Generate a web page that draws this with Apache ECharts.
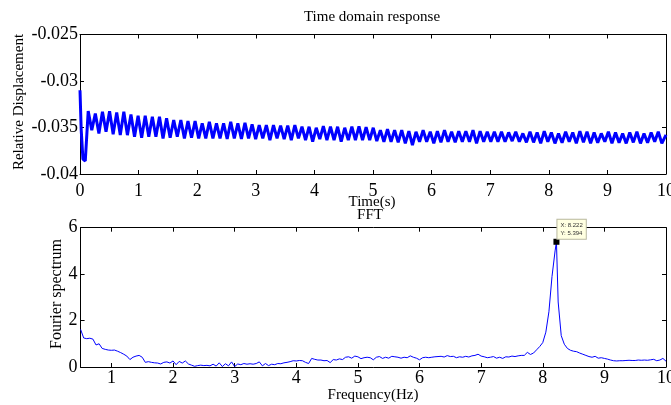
<!DOCTYPE html>
<html>
<head>
<meta charset="utf-8">
<script src="https://cdn.jsdelivr.net/npm/echarts@6.0.0/dist/echarts.min.js"></script>
<style>
  html, body { margin: 0; padding: 0; background: #fff; }
  #main { width: 671px; height: 405px; }
</style>
</head>
<body>
<div id="main"></div>
<script>
// ---- time domain data (relative displacement) ----
var startTimes = [0, 0.02, 0.05, 0.09];
var startDisp = [-0.0310, -0.0352, -0.0384, -0.0386];
var cycleStart = 0.14;     // first peak (s)
var halfPeriod = 0.0608;   // ~8.22 Hz
var peakDisp = [
  -0.03324,-0.03349,-0.03331,-0.03324,-0.03338,-0.03331,-0.03360,-0.03374,-0.03374,-0.03385,
  -0.03385,-0.03402,-0.03420,-0.03420,-0.03431,-0.03431,-0.03456,-0.03438,-0.03456,-0.03456,
  -0.03438,-0.03456,-0.03449,-0.03467,-0.03474,-0.03474,-0.03474,-0.03481,-0.03481,-0.03474,
  -0.03492,-0.03492,-0.03503,-0.03485,-0.03492,-0.03492,-0.03503,-0.03492,-0.03488,-0.03496,-0.03503,
  -0.03528,-0.03517,-0.03528,-0.03528,-0.03539,-0.03546,-0.03528,-0.03546,-0.03539,-0.03528,
  -0.03546,-0.03539,-0.03539,-0.03528,-0.03539,-0.03546,-0.03546,-0.03546,-0.03553,-0.03546,-0.03564,
  -0.03546,-0.03553,-0.03539,-0.03553,-0.03564,-0.03546,-0.03553,-0.03539,-0.03546,-0.03553,
  -0.03564,-0.03546,-0.03553,-0.03564,-0.03553,-0.03546,-0.03564,-0.03553,-0.03546
];
var troughDisp = [
  -0.03528,-0.03564,-0.03546,-0.03574,-0.03582,-0.03582,-0.03599,-0.03610,-0.03599,-0.03599,
  -0.03617,-0.03610,-0.03599,-0.03617,-0.03610,-0.03617,-0.03617,-0.03617,-0.03617,-0.03624,
  -0.03617,-0.03624,-0.03617,-0.03624,-0.03617,-0.03635,-0.03617,-0.03624,-0.03635,-0.03617,
  -0.03635,-0.03653,-0.03624,-0.03635,-0.03635,-0.03653,-0.03635,-0.03635,-0.03635,-0.03635,-0.03646,
  -0.03653,-0.03653,-0.03660,-0.03671,-0.03689,-0.03653,-0.03653,-0.03671,-0.03660,-0.03653,
  -0.03660,-0.03653,-0.03653,-0.03671,-0.03653,-0.03653,-0.03653,-0.03653,-0.03646,-0.03653,-0.03660,
  -0.03660,-0.03671,-0.03653,-0.03671,-0.03664,-0.03653,-0.03671,-0.03660,-0.03671,-0.03664,
  -0.03653,-0.03671,-0.03664,-0.03671,-0.03660,-0.03671,-0.03664,-0.03653,-0.03671
];
var endTime = 10;
var endDisp = -0.0358;

// ---- FFT data ----
var fftStart = 0.5;
var fftStep = 0.05;
var fftAmp = [
  1.62,1.25,1.22,1.24,1.20,0.95,1.00,0.80,0.76,0.73,
  0.72,0.73,0.68,0.62,0.55,0.47,0.32,0.42,0.47,0.50,0.42,0.20,0.23,0.20,0.18,0.17,0.13,0.20,0.22,0.17,
  0.26,0.10,0.24,0.17,0.26,0.13,0.08,0.03,0.06,0.08,0.06,0.07,0.05,0.12,0.04,0.18,0.02,0.14,0.05,0.22,
  0.02,0.13,0.10,0.15,0.12,0.14,0.12,0.15,0.22,0.05,0.15,0.06,0.12,0.10,0.15,0.14,0.18,0.20,0.23,0.27,
  0.26,0.28,0.27,0.20,0.15,0.37,0.33,0.30,0.30,0.27,0.28,0.19,0.32,0.30,0.35,0.32,0.42,0.44,0.38,0.47,
  0.44,0.36,0.40,0.42,0.40,0.31,0.42,0.45,0.37,0.42,0.38,0.46,0.44,0.42,0.38,0.42,0.40,0.48,0.42,0.38,
  0.31,0.40,0.42,0.40,0.42,0.44,0.45,0.46,0.43,0.49,0.45,0.46,0.40,0.44,0.42,0.46,0.43,0.48,0.50,0.55,
  0.47,0.44,0.40,0.42,0.45,0.38,0.42,0.37,0.44,0.43,0.47,0.45,0.48,0.50,0.50,0.63,0.54,0.60,0.74,0.88,
  1.05,1.50,2.38,3.90,5.00,2.80,1.35,0.98,0.80,0.72,0.68,0.66,0.60,0.55,0.50,0.45,0.42,0.46,0.38,0.40,
  0.37,0.34,0.30,0.27,0.26,0.27,0.27,0.28,0.29,0.28,0.28,0.30,0.29,0.30,0.29,0.31,0.33,0.27,0.30,0.37,
  0.25
];
var peakFreq = 8.222;
var peakAmp = 5.394;
var freqTicks = [1, 2, 3, 4, 5, 6, 7, 8, 9, 10];

// build series data
var timeData = [];
startTimes.forEach(function (t, i) { timeData.push([t, startDisp[i]]); });
peakDisp.forEach(function (p, i) {
  timeData.push([cycleStart + 2 * i * halfPeriod, p]);
  timeData.push([cycleStart + (2 * i + 1) * halfPeriod, troughDisp[i]]);
});
timeData.push([endTime, endDisp]);

var fftData = [];
fftAmp.forEach(function (a, i) {
  var f = +(fftStart + i * fftStep).toFixed(2);
  fftData.push([f, a]);
  if (f < peakFreq && f + fftStep > peakFreq) fftData.push([peakFreq, peakAmp]);
});

var serif = 'Liberation Serif';
var black = '#000';

function axisBase(extra) {
  var a = {
    axisLine: { show: true, onZero: false, lineStyle: { color: black, width: 1 } },
    axisTick: { show: true, inside: true, length: 4, lineStyle: { color: black } },
    axisLabel: { color: black, fontFamily: serif, fontSize: 18 },
    splitLine: { show: false }
  };
  return Object.assign(a, extra);
}
function noLabel(a) { a.axisLabel = { show: false }; return a; }

var chart = echarts.init(document.getElementById('main'));
chart.setOption({
  animation: false,
  backgroundColor: '#fff',
  grid: [
    { left: 80, top: 34.5, right: 5, height: 139.5, outerBoundsMode: 'none', containLabel: false },
    { left: 80.6, top: 227.7, right: 5, height: 139.3, outerBoundsMode: 'none', containLabel: false }
  ],
  xAxis: [
    axisBase({ gridIndex: 0, type: 'value', min: 0, max: 10, interval: 1, position: 'bottom' }),
    noLabel(axisBase({ gridIndex: 0, type: 'value', min: 0, max: 10, interval: 1, position: 'top' })),
    axisBase({ gridIndex: 1, type: 'value', min: 0.5, max: 10, position: 'bottom' }),
    noLabel(axisBase({ gridIndex: 1, type: 'value', min: 0.5, max: 10, position: 'top' }))
  ],
  yAxis: [
    axisBase({ gridIndex: 0, type: 'value', min: -0.04, max: -0.025, interval: 0.005, position: 'left' }),
    noLabel(axisBase({ gridIndex: 0, type: 'value', min: -0.04, max: -0.025, interval: 0.005, position: 'right' })),
    axisBase({ gridIndex: 1, type: 'value', min: 0, max: 6, interval: 2, position: 'left' }),
    noLabel(axisBase({ gridIndex: 1, type: 'value', min: 0, max: 6, interval: 2, position: 'right' }))
  ],
  series: [
    {
      type: 'line', xAxisIndex: 0, yAxisIndex: 0, data: timeData,
      showSymbol: false, symbol: 'none', sampling: null,
      lineStyle: { color: '#0000ff', width: 3 }
    },
    {
      type: 'line', xAxisIndex: 2, yAxisIndex: 2, data: fftData,
      showSymbol: false, symbol: 'none',
      lineStyle: { color: '#0000ff', width: 1 },
      markPoint: {
        symbol: 'rect', symbolSize: 6,
        itemStyle: { color: black },
        data: [{ coord: [peakFreq, peakAmp] }],
        label: {
          show: true,
          position: [4, -19],
          formatter: 'X: ' + peakFreq + '\nY: ' + peakAmp,
          fontFamily: 'Liberation Sans', fontSize: 6, lineHeight: 8,
          color: '#333',
          backgroundColor: '#ffffe1', borderColor: '#b9b9a0', borderWidth: 1,
          padding: [2, 3, 1, 3]
        }
      }
    }
  ],
  graphic: [
    { type: 'text', x: 372, y: 17, style: { text: 'Time domain response', font: '15px ' + serif, fill: black, textAlign: 'center', textVerticalAlign: 'middle' } },
    { type: 'text', x: 372, y: 202, style: { text: 'Time(s)', font: '15px ' + serif, fill: black, textAlign: 'center', textVerticalAlign: 'middle' } },
    { type: 'text', x: 370, y: 215.5, style: { text: 'FFT', font: '15px ' + serif, fill: black, textAlign: 'center', textVerticalAlign: 'middle' } },
    { type: 'text', x: 373, y: 395.5, style: { text: 'Frequency(Hz)', font: '15px ' + serif, fill: black, textAlign: 'center', textVerticalAlign: 'middle' } },
    { type: 'text', x: 19, y: 102, rotation: Math.PI / 2, style: { text: 'Relative Displacement', font: '15px ' + serif, fill: black, textAlign: 'center', textVerticalAlign: 'middle' } },
    { type: 'text', x: 56.5, y: 294, rotation: Math.PI / 2, style: { text: 'Fourier spectrum', font: '16px ' + serif, fill: black, textAlign: 'center', textVerticalAlign: 'middle' } }
  ]
});

// custom tick positions for the frequency axis (starts at 0.5)
chart.setOption({
  xAxis: [{}, {}, {
    axisTick: { customValues: freqTicks },
    axisLabel: { customValues: freqTicks, margin: 2 }
  }, {
    axisTick: { customValues: freqTicks }
  }],
  yAxis: [{
    axisLabel: { margin: 2, formatter: function (v) { return String(parseFloat(v.toFixed(3))); } }
  }, {}, { axisLabel: { margin: 3 } }, {}]
});
</script>
</body>
</html>
